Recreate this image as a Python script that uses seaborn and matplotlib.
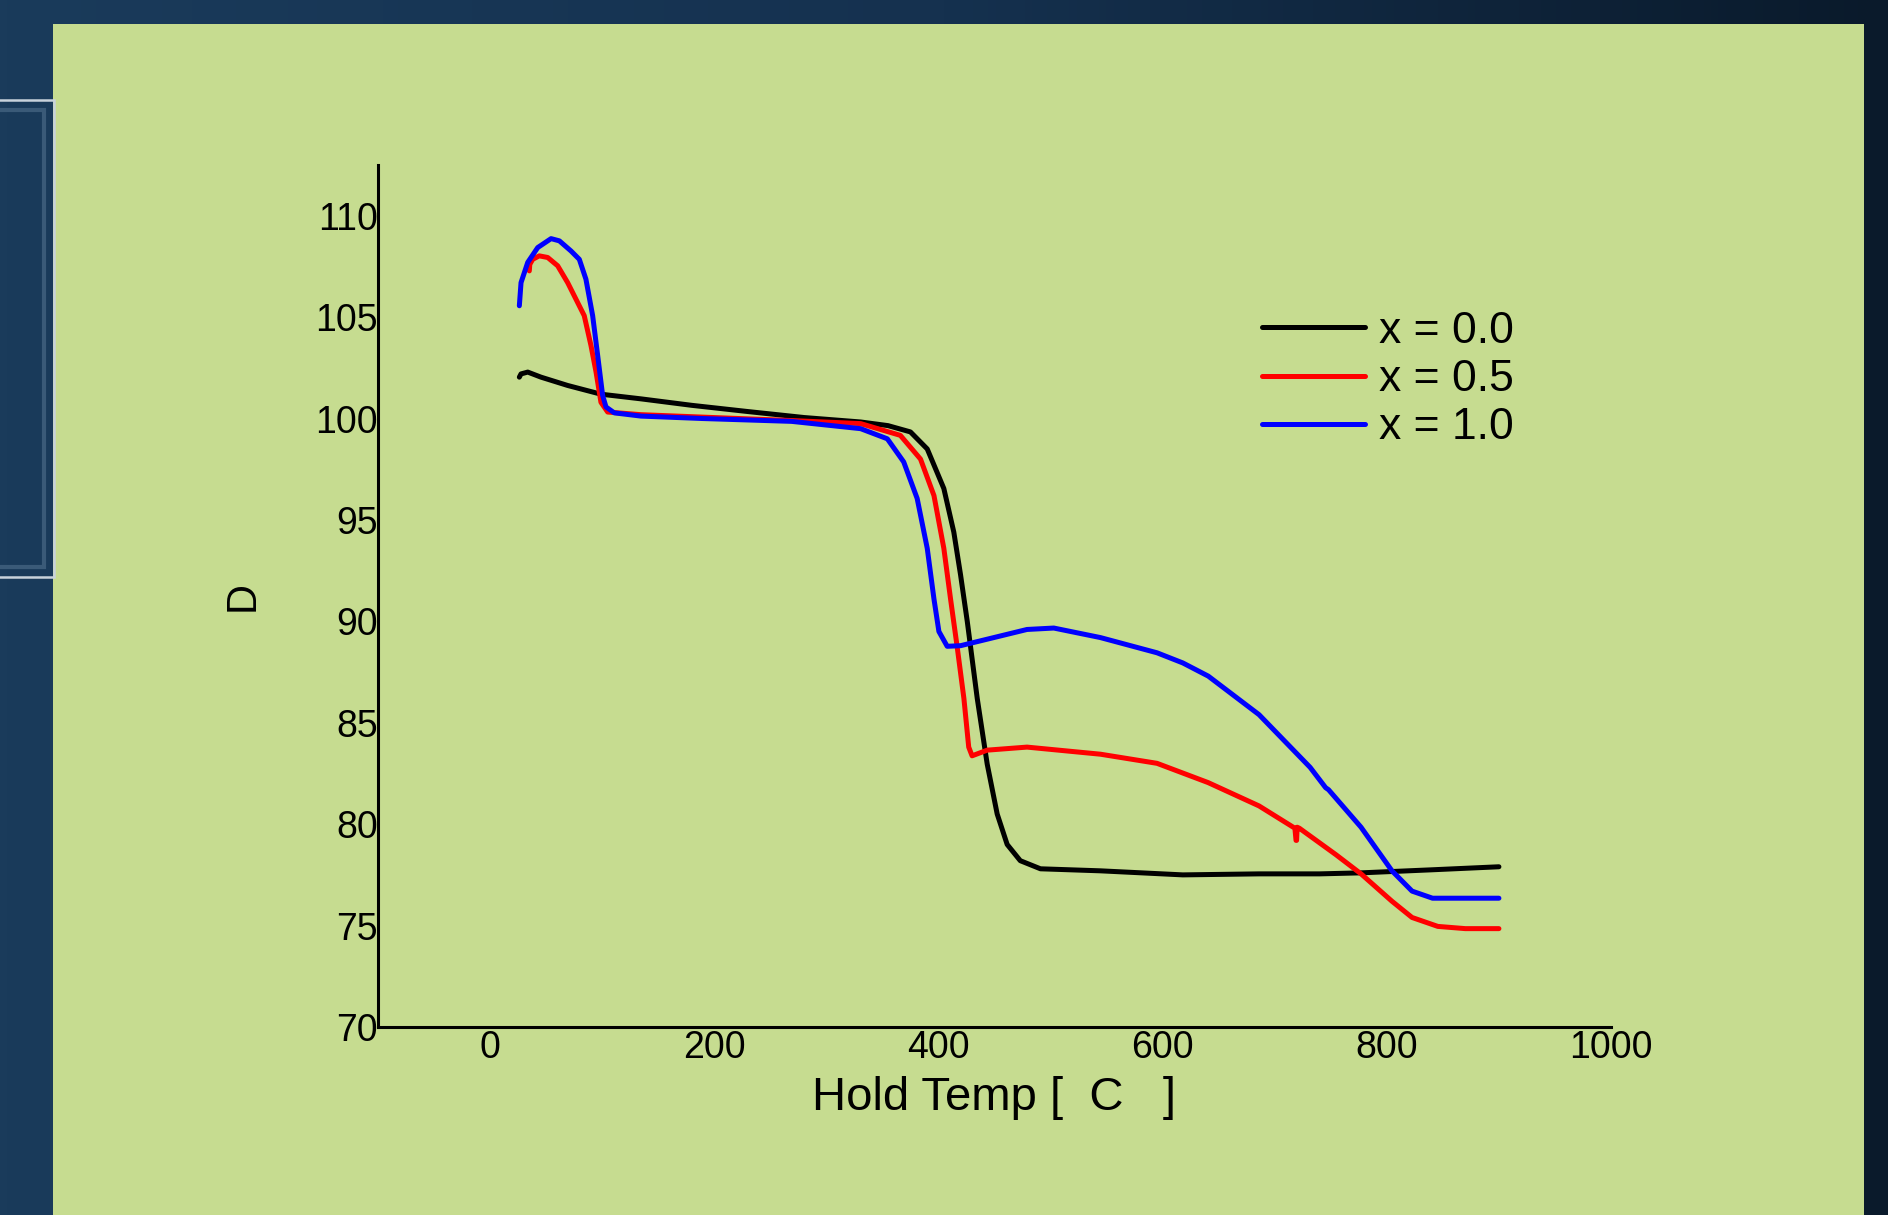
import numpy as np
import pandas as pd
import matplotlib
matplotlib.use("Agg")
import matplotlib.pyplot as plt
import seaborn as sns
from matplotlib.patches import Rectangle
from matplotlib.ticker import MultipleLocator

# ---- data ----
temp_00 = [26.1, 27.6, 33.6, 45.4, 69.2, 98.9, 134.6, 180, 229, 280, 330.6, 355, 375, 390, 404.8,
           413.7, 419.7, 425.7, 434.6, 443.5, 452.4, 461.3, 473, 491, 544.5, 618, 686, 740, 777,
           840, 900]
d_00 = [102.04, 102.2, 102.29, 102.04, 101.63, 101.2, 100.97, 100.65, 100.35, 100.05, 99.83, 99.65,
        99.34, 98.5, 96.55, 94.4, 92.3, 90.0, 86.2, 82.96, 80.5, 79.0, 78.2, 77.8, 77.7, 77.5, 77.55,
        77.55, 77.6, 77.75, 77.9]

temp_05 = [35, 35.4, 38, 43.9, 51.4, 60.3, 69.2, 78.1, 84, 90, 94.5, 98.9, 104.9, 134.6, 189.6, 269,
           330.6, 366, 384, 396, 404.8, 410.8, 416.8, 422.7, 427, 430, 443.5, 479, 544.5, 595, 640.6,
           686, 718, 719, 719.5, 720, 722, 754.5, 777, 804.6, 822.5, 845.5, 870, 900]
d_05 = [107.28, 107.6, 107.85, 108.02, 107.94, 107.53, 106.7, 105.72, 105.07, 103.6, 102.3, 100.8,
        100.32, 100.19, 100.07, 99.9, 99.75, 99.17, 98.0, 96.2, 93.6, 91.1, 88.7, 86.2, 83.8, 83.37,
        83.65, 83.8, 83.45, 83.0, 82.05, 80.9, 79.8, 79.2, 79.2, 79.85, 79.8, 78.5, 77.55, 76.2,
        75.4, 74.96, 74.85, 74.85]

temp_10 = [26.1, 27.6, 33.6, 42.5, 54.4, 61.8, 72.2, 79.6, 85.5, 91.5, 96, 100.4, 103.4, 110.8,
           134.6, 189.6, 269, 330.6, 354.4, 369, 381, 390, 396, 400.4, 407.8, 419.7, 449.4, 479,
           502.9, 544.5, 595, 618, 640.7, 686, 731.6, 745.4, 748, 777, 804.6, 822.5, 840.8, 870, 900]
d_10 = [105.56, 106.7, 107.7, 108.43, 108.87, 108.76, 108.26, 107.85, 106.87, 105.07, 103.1, 101.14,
        100.57, 100.28, 100.12, 100.0, 99.86, 99.5, 99.0, 97.86, 96.06, 93.6, 91.1, 89.5, 88.77,
        88.8, 89.2, 89.6, 89.67, 89.2, 88.45, 87.95, 87.3, 85.4, 82.8, 81.8, 81.7, 79.85, 77.7,
        76.7, 76.35, 76.35, 76.35]

series_labels = ["x = 0.0", "x = 0.5", "x = 1.0"]
series_colors = ["#000000", "#ff0000", "#0000ff"]
x_ticks = [0, 200, 400, 600, 800, 1000]
y_ticks = [70, 75, 80, 85, 90, 95, 100, 105, 110]

df = pd.concat([
    pd.DataFrame({"temp": temp_00, "D": d_00, "series": series_labels[0]}),
    pd.DataFrame({"temp": temp_05, "D": d_05, "series": series_labels[1]}),
    pd.DataFrame({"temp": temp_10, "D": d_10, "series": series_labels[2]}),
], ignore_index=True)

sns.set_style("white")
plt.rcParams["font.family"] = ["Liberation Sans", "DejaVu Sans"]
plt.rcParams["text.color"] = "black"
plt.rcParams["axes.labelcolor"] = "black"
plt.rcParams["xtick.color"] = "black"
plt.rcParams["ytick.color"] = "black"

W, H = 1888, 1215
fig = plt.figure(figsize=(W / 100, H / 100), dpi=100)

# dark blue slide background with a soft horizontal gradient
bg = fig.add_axes([0, 0, 1, 1], zorder=-10)
grad = np.linspace(0, 1, 256).reshape(1, -1)
bg.imshow(grad, aspect="auto", cmap=matplotlib.colors.LinearSegmentedColormap.from_list(
    "slide", ["#1a3b5b", "#15314f", "#0a1a2b"]), extent=[0, 1, 0, 1])
bg.set_xlim(0, 1)
bg.set_ylim(0, 1)
bg.axis("off")
# green panel
bg.add_patch(Rectangle((53 / W, 0), (1864 - 53) / W, 1 - 24 / H,
                       facecolor="#c6dc90", edgecolor="none", zorder=1))
# left framed box (sits on top of the panel edge)
bg.add_patch(Rectangle((-0.01, 1 - 577 / H), 0.01 + 54 / W, (577 - 100) / H,
                       fill=False, edgecolor="#c8d2dc", lw=1.8, zorder=2))
bg.add_patch(Rectangle((-0.01, 1 - 567 / H), 0.01 + 44 / W, (567 - 110) / H,
                       fill=False, edgecolor="#3a5a78", lw=3, zorder=2))

ax = fig.add_axes([378 / W, 1 - 1027 / H, (1611 - 378) / W, (1027 - 165) / H])
ax.set_facecolor("none")

sns.lineplot(data=df, x="temp", y="D", hue="series", palette=series_colors,
             hue_order=series_labels, sort=False, estimator=None, lw=3.6, ax=ax)

ax.set_xlim(-100, 1000)
ax.set_ylim(70, 112.5)
ax.set_xticks(x_ticks)
ax.set_yticks(y_ticks)
ax.xaxis.set_minor_locator(MultipleLocator(100))
ax.tick_params(axis="x", which="major", length=2, width=1, pad=0, labelsize=27)
ax.tick_params(axis="x", which="minor", length=2, width=1)
ax.tick_params(axis="y", length=0, pad=0, labelsize=27)

for s in ["top", "right"]:
    ax.spines[s].set_visible(False)
for s in ["left", "bottom"]:
    ax.spines[s].set_linewidth(2.2)
    ax.spines[s].set_color("black")

ax.set_xlabel("Hold Temp [  C   ]", fontsize=34, labelpad=7)
ax.set_ylabel("D", fontsize=30, labelpad=38)

ax.legend(loc="upper left", bbox_to_anchor=(1262 / W, 1 - 311 / H),
          bbox_transform=fig.transFigure, frameon=False, fontsize=32,
          handlelength=2.32, handletextpad=0.32, labelspacing=0.16,
          borderpad=0, borderaxespad=0)

fig.savefig("out.png", dpi=100)
